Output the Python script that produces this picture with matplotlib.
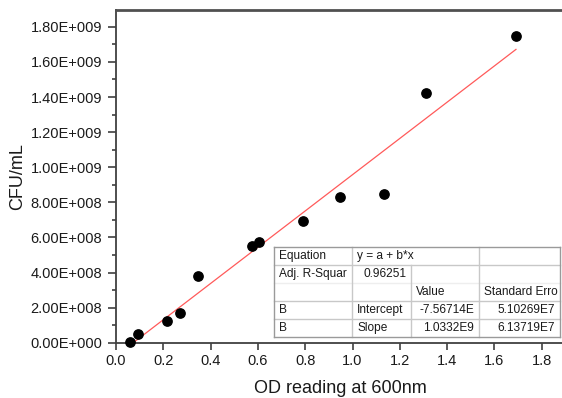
import matplotlib
matplotlib.use("Agg")
import matplotlib.pyplot as plt
from matplotlib.ticker import FuncFormatter, MultipleLocator
from matplotlib.lines import Line2D
import numpy as np

plt.rcParams['font.family'] = ['Liberation Sans', 'DejaVu Sans']

# ---- data ----
od = [0.059, 0.094, 0.217, 0.269, 0.347, 0.575, 0.606, 0.792, 0.947, 1.134, 1.311, 1.691]
cfu = [0.2e7, 4.8e7, 1.22e8, 1.67e8, 3.82e8, 5.51e8, 5.72e8, 6.93e8, 8.28e8, 8.47e8, 1.423e9, 1.748e9]
intercept = -7.56714e7
slope = 1.0332e9

table_rows = [
    ["Equation", "y = a + b*x", "", ""],
    ["Adj. R-Squar", "0.96251", "", ""],
    ["", "", "Value", "Standard Erro"],
    ["B", "Intercept", "-7.56714E", "5.10269E7"],
    ["B", "Slope", "1.0332E9", "6.13719E7"],
]

W, H = 562, 398
fig = plt.figure(figsize=(W / 100, H / 100), dpi=100)
ax = fig.add_axes([116 / W, 1 - 342.7 / H, 449.4 / W, (342.7 - 10) / H])

spine_c = '#404040'
ax.scatter(od, cfu, s=45, color='black', zorder=3, clip_on=False)
xs = np.array([min(od), max(od)])
ax.plot(xs, intercept + slope * xs, color='#ff5a5a', lw=0.9, zorder=2)

ax.set_xlim(0, 1.9)
ax.set_ylim(0, 1.896e9)
ax.xaxis.set_major_locator(MultipleLocator(0.2))
ax.yaxis.set_major_locator(MultipleLocator(2e8))
ax.yaxis.set_minor_locator(MultipleLocator(1e8))


def yfmt(v, pos):
    if v == 0:
        return "0.00E+000"
    e = int(np.floor(np.log10(abs(v))))
    return f"{v / 10**e:.2f}E+{e:03d}"


ax.yaxis.set_major_formatter(FuncFormatter(yfmt))
ax.xaxis.set_major_formatter(FuncFormatter(lambda v, p: f"{v:.1f}"))

for s in ['left', 'bottom']:
    ax.spines[s].set_color(spine_c)
    ax.spines[s].set_linewidth(1.3)
ax.spines['top'].set_color('#505050')
ax.spines['top'].set_linewidth(2.0)
ax.spines['right'].set_visible(False)

ax.tick_params(axis='both', which='major', direction='out', length=5, width=1.2,
               color=spine_c, labelsize=10.5, labelcolor='#1a1a1a', pad=3)
ax.tick_params(axis='y', which='minor', direction='out', length=3, width=1.2, color=spine_c)
ax.tick_params(axis='y', which='major', length=6, pad=4)

ax.set_xlabel("OD reading at 600nm", fontsize=13, color='#1a1a1a', labelpad=9)
ax.set_ylabel("CFU/mL", fontsize=13, color='#1a1a1a', labelpad=3)

# ---- table (figure pixel coordinates) ----
def P(x, y):
    return (x / W, 1 - y / H)

left, right = 274, 560
row_y = [247, 265, 283, 301, 319, 337]
col_x = [274, 352, 411, 479, 560]

bg = plt.Rectangle(P(left, row_y[-1]), (right - left) / W, (row_y[-1] - row_y[0]) / H,
                   transform=fig.transFigure, facecolor='white', edgecolor='none', zorder=5)
fig.add_artist(bg)


def hline(y, x0, x1, c, lw=1.0):
    a, b = P(x0, y), P(x1, y)
    fig.add_artist(Line2D([a[0], b[0]], [a[1], b[1]], transform=fig.transFigure,
                          color=c, lw=lw, zorder=6))


def vline(x, y0, y1, c, lw=1.0):
    a, b = P(x, y0), P(x, y1)
    fig.add_artist(Line2D([a[0], b[0]], [a[1], b[1]], transform=fig.transFigure,
                          color=c, lw=lw, zorder=6))


grid_c = '#c8c8c8'
faint_c = '#eeeeee'
hline(row_y[1], left, right, grid_c)
hline(row_y[2], left, right, faint_c)
hline(row_y[3], left, right, grid_c)
hline(row_y[4], left, right, grid_c)
vline(col_x[1], row_y[0], row_y[-1], grid_c)
vline(col_x[2], row_y[1], row_y[-1], grid_c)
vline(col_x[3], row_y[0], row_y[-1], grid_c)
# outer border
hline(row_y[0], left, right, '#9a9a9a')
hline(row_y[-1], left, right, '#9a9a9a')
vline(left, row_y[0], row_y[-1], '#9a9a9a')
vline(right, row_y[0], row_y[-1], '#9a9a9a')

tfs = 8.6
for r, row in enumerate(table_rows):
    yc = (row_y[r] + row_y[r + 1]) / 2
    for c, txt in enumerate(row):
        if not txt:
            continue
        numeric = txt[0] in "-0123456789"
        if numeric:
            x, ha = col_x[c + 1] - 5, 'right'
        else:
            x, ha = col_x[c] + 5, 'left'
        fig.text(*P(x, yc), txt, ha=ha, va='center', fontsize=tfs, color='#1a1a1a', zorder=7)

fig.savefig("out.png", dpi=100)
